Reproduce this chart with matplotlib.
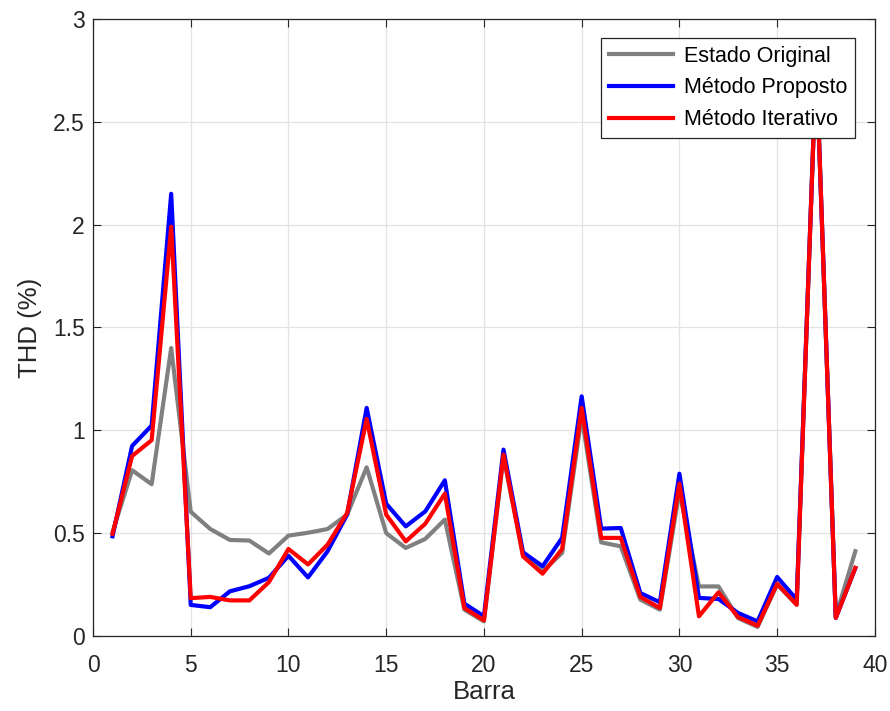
import numpy as np
import matplotlib
matplotlib.use("Agg")
import matplotlib.pyplot as plt

plt.rcParams['font.family'] = ['Liberation Sans', 'DejaVu Sans']

barra = np.arange(1, 40)

# THD por barra (%)
estado_original = [0.505, 0.806, 0.738, 1.40, 0.604, 0.52, 0.467, 0.464, 0.401, 0.488,
                   0.502, 0.52, 0.59, 0.82, 0.50, 0.428, 0.472, 0.566, 0.128, 0.071,
                   0.87, 0.395, 0.314, 0.404, 1.068, 0.455, 0.436, 0.177, 0.128, 0.703,
                   0.241, 0.241, 0.087, 0.044, 0.25, 0.152, 2.8, 0.095, 0.412]
metodo_proposto = [0.485, 0.924, 1.023, 2.15, 0.151, 0.14, 0.217, 0.242, 0.283, 0.39,
                   0.285, 0.412, 0.59, 1.109, 0.643, 0.533, 0.606, 0.757, 0.157, 0.096,
                   0.906, 0.407, 0.339, 0.477, 1.165, 0.522, 0.525, 0.209, 0.164, 0.789,
                   0.185, 0.18, 0.112, 0.071, 0.287, 0.177, 2.8, 0.088, 0.33]
metodo_iterativo = [0.497, 0.875, 0.952, 1.99, 0.184, 0.19, 0.173, 0.173, 0.262, 0.423,
                    0.348, 0.444, 0.598, 1.055, 0.59, 0.46, 0.546, 0.692, 0.136, 0.076,
                    0.882, 0.387, 0.303, 0.423, 1.109, 0.477, 0.477, 0.19, 0.136, 0.741,
                    0.096, 0.212, 0.092, 0.05, 0.254, 0.152, 2.8, 0.088, 0.331]

fig = plt.figure(figsize=(8.9, 7.11), dpi=100)
ax = fig.add_axes([0.1045, 0.1055, 0.8785, 0.8678])

ax.plot(barra, estado_original, color=(0.5, 0.5, 0.5), lw=3, label='Estado Original')
ax.plot(barra, metodo_proposto, color='b', lw=3, label='Método Proposto')
ax.plot(barra, metodo_iterativo, color='r', lw=3, label='Método Iterativo')

ax.set_xlim(0, 40)
ax.set_ylim(0, 3)
ax.set_xticks(np.arange(0, 41, 5))
ax.set_yticks(np.arange(0, 3.01, 0.5))
ax.set_yticklabels(['0', '0.5', '1', '1.5', '2', '2.5', '3'])
ax.grid(True, color='#e3e3e3', lw=0.9)
ax.set_axisbelow(True)
ax.tick_params(direction='in', top=True, right=True, labelsize=16.5,
               length=6, width=0.8, colors='#262626')
ax.tick_params(axis='x', pad=13)
ax.tick_params(axis='y', pad=6)
for s in ax.spines.values():
    s.set_color('#262626')
    s.set_linewidth(0.9)

ax.set_xlabel('Barra', fontsize=18.5, color='#262626', labelpad=2)
ax.set_ylabel('THD (%)', fontsize=18.5, color='#262626', labelpad=8)

leg = ax.legend(loc='upper right', bbox_to_anchor=(0.9744, 0.969), fontsize=15.5,
                frameon=True, fancybox=False, framealpha=1, edgecolor='#262626',
                handlelength=3.0, borderpad=0.35, labelspacing=0.5, handletextpad=0.5,
                borderaxespad=0)
leg.get_frame().set_linewidth(0.9)

plt.savefig('out.png', dpi=100)
